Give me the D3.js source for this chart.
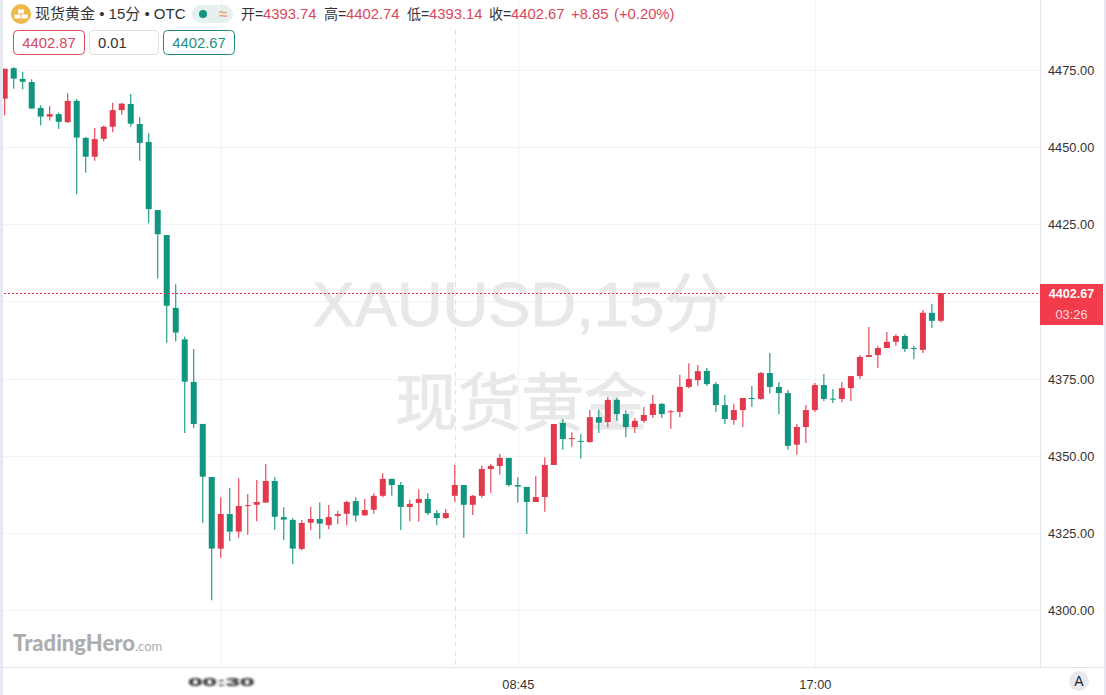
<!DOCTYPE html>
<html>
<head>
<meta charset="utf-8">
<script src="https://cdn.jsdelivr.net/npm/d3@7"></script>
<style>
  html, body { margin: 0; padding: 0; background: #fff; overflow: hidden; }
  svg { display: block; }
  text { font-family: "Liberation Sans", "Noto Sans CJK SC", sans-serif; }
</style>
</head>
<body>
<div id="chart"></div>
<script>
// Candle values, 15 minute bars
const opens = [
  4465.7, 4475.6, 4472.1, 4471.1, 4462.7, 4459.9, 4460.7, 4458.1, 4465.0, 4453.0,
  4446.9, 4452.7, 4456.6, 4462.0, 4464.0, 4457.5, 4451.7, 4429.6, 4421.5, 4397.9,
  4387.7, 4373.9, 4360.3, 4343.1, 4319.9, 4331.1, 4325.4, 4333.7, 4334.1, 4334.8,
  4341.8, 4330.1, 4329.2, 4319.8, 4328.3, 4329.5, 4327.5, 4330.5, 4331.2, 4335.3,
  4330.7, 4332.5, 4337.0, 4342.5, 4340.5, 4333.4, 4334.7, 4336.0, 4331.4, 4329.8,
  4337.0, 4340.5, 4334.1, 4337.0, 4345.7, 4346.7, 4349.3, 4340.5, 4339.9, 4335.0,
  4336.6, 4347.0, 4360.6, 4355.4, 4354.8, 4354.4, 4362.5, 4360.9, 4368.1, 4363.5,
  4359.3, 4361.3, 4363.2, 4366.8, 4364.2, 4364.2, 4372.3, 4374.5, 4377.5, 4373.2,
  4366.4, 4361.6, 4364.8, 4368.7, 4368.4, 4376.8, 4372.3, 4370.3, 4353.6, 4359.3,
  4364.8, 4372.9, 4368.5, 4368.4, 4371.9, 4375.8, 4382.0, 4382.6, 4384.9, 4386.9,
  4388.8, 4384.9, 4384.3, 4396.3, 4393.74
];
const highs = [
  4475.4, 4475.9, 4474.4, 4472.0, 4463.6, 4463.3, 4461.2, 4467.5, 4465.6, 4453.3,
  4456.2, 4457.0, 4464.4, 4464.4, 4467.2, 4459.7, 4454.5, 4429.6, 4421.5, 4405.6,
  4388.6, 4384.6, 4360.3, 4343.1, 4336.5, 4339.5, 4342.7, 4337.6, 4342.1, 4347.3,
  4343.0, 4333.3, 4329.7, 4329.2, 4333.5, 4334.8, 4334.0, 4332.2, 4335.4, 4336.5,
  4336.0, 4337.8, 4344.3, 4342.5, 4341.5, 4335.7, 4339.1, 4337.8, 4332.4, 4332.7,
  4347.0, 4340.5, 4337.3, 4346.8, 4347.3, 4350.6, 4349.3, 4343.0, 4339.9, 4343.4,
  4349.5, 4360.3, 4361.9, 4357.6, 4357.0, 4364.8, 4365.0, 4369.0, 4368.7, 4364.7,
  4362.2, 4365.8, 4369.7, 4367.1, 4364.8, 4376.2, 4380.0, 4379.4, 4378.4, 4373.9,
  4369.7, 4366.8, 4368.7, 4372.6, 4377.1, 4383.3, 4373.9, 4371.3, 4360.3, 4366.4,
  4373.6, 4376.5, 4371.6, 4373.9, 4375.8, 4382.6, 4391.7, 4385.6, 4390.1, 4389.4,
  4389.4, 4385.6, 4397.2, 4399.2, 4402.74
];
const lows = [
  4460.3, 4468.9, 4468.8, 4462.5, 4457.0, 4458.6, 4455.9, 4457.9, 4434.7, 4441.7,
  4445.6, 4451.8, 4454.8, 4460.5, 4456.6, 4445.6, 4425.3, 4407.4, 4386.6, 4387.0,
  4357.4, 4359.0, 4328.3, 4303.2, 4316.9, 4322.4, 4323.4, 4324.4, 4328.8, 4334.8,
  4326.0, 4322.7, 4314.9, 4319.4, 4325.9, 4323.1, 4326.2, 4327.9, 4327.4, 4328.6,
  4330.5, 4331.2, 4336.5, 4337.0, 4325.9, 4328.8, 4328.6, 4330.8, 4327.5, 4329.6,
  4335.1, 4323.4, 4330.8, 4336.4, 4337.8, 4343.8, 4340.0, 4334.8, 4324.6, 4335.0,
  4331.8, 4347.0, 4351.9, 4352.9, 4349.0, 4354.4, 4357.4, 4359.2, 4361.3, 4356.0,
  4357.4, 4360.7, 4362.2, 4362.2, 4358.7, 4362.5, 4371.9, 4372.7, 4372.6, 4364.2,
  4360.3, 4360.0, 4359.3, 4365.8, 4368.1, 4370.2, 4363.4, 4351.9, 4350.3, 4354.1,
  4364.2, 4367.7, 4367.1, 4367.4, 4367.7, 4374.9, 4382.0, 4378.4, 4384.9, 4385.6,
  4383.6, 4381.3, 4383.3, 4391.4, 4393.14
];
const closes = [
  4475.4, 4472.2, 4471.2, 4462.5, 4459.9, 4460.7, 4458.2, 4465.0, 4453.1, 4446.9,
  4452.6, 4456.6, 4462.0, 4464.1, 4457.6, 4451.4, 4429.9, 4421.8, 4398.6, 4389.9,
  4374.0, 4360.3, 4343.2, 4319.9, 4331.1, 4325.4, 4333.7, 4334.0, 4335.0, 4341.8,
  4330.2, 4329.3, 4319.9, 4328.2, 4329.5, 4328.0, 4330.1, 4331.1, 4335.0, 4330.6,
  4332.4, 4337.0, 4342.5, 4340.5, 4333.4, 4334.4, 4336.0, 4331.4, 4329.8, 4331.4,
  4340.5, 4334.1, 4337.0, 4345.7, 4346.7, 4349.3, 4340.5, 4340.0, 4335.0, 4336.6,
  4347.0, 4360.3, 4355.4, 4355.7, 4354.5, 4362.5, 4360.7, 4368.1, 4363.5, 4359.3,
  4361.3, 4363.2, 4366.8, 4363.5, 4364.4, 4372.3, 4374.9, 4377.4, 4373.2, 4366.4,
  4361.9, 4364.8, 4368.7, 4368.5, 4376.8, 4372.3, 4370.3, 4353.2, 4359.3, 4364.8,
  4372.9, 4368.4, 4368.3, 4371.9, 4375.8, 4382.0, 4382.6, 4384.9, 4386.9, 4388.8,
  4384.6, 4384.7, 4396.3, 4393.7, 4402.67
];

const priceTicks = [4475, 4450, 4425, 4375, 4350, 4325, 4300];
const timeTickBars = [24, 57, 90];
const timeTickLabels = ["00:30", "08:45", "17:00"];
const crosshairBar = 50;

const lastPrice = 4402.67;
const lastPriceLabel = "4402.67";
const countdownLabel = "03:26";
const chartTitle = "现货黄金 • 15分 • OTC";
const watermarkLines = ["XAUUSD,15分", "现货黄金"];

// Legend row: label then value, x
const legendLabels = [["开=", 241], ["高=", 324], ["低=", 407], ["收=", 489]];
const legendValues = [
  ["4393.74", 263], ["4402.74", 346], ["4393.14", 429], ["4402.67", 511],
  ["+8.85", 571], ["(+0.20%)", 614]
];
const orderBoxes = [
  { text: "4402.87", x: 13.5, w: 71, color: "#d9475c", stroke: "#d9475c", anchor: "middle" },
  { text: "0.01", x: 89.5, w: 69, color: "#333", stroke: "#e0e0e0", anchor: "start" },
  { text: "4402.67", x: 163.5, w: 71, color: "#1f8f7c", stroke: "#1f8f7c", anchor: "middle" }
];

const width = 1106;
const height = 695;
const axisX = 1040;
const axisY = 667;
const upColor = "#e23a4c";
const downColor = "#12957f";
const gridColor = "#f1f3f8";

const svg = d3.select("#chart")
  .append("svg")
  .attr("width", width)
  .attr("height", height);

const defs = svg.append("defs");
defs.append("filter")
  .attr("id", "smear")
  .attr("x", "-20%")
  .attr("y", "-50%")
  .attr("width", "140%")
  .attr("height", "200%")
  .append("feGaussianBlur")
  .attr("stdDeviation", "1.6 0.9");

// Scales
const xScale = d3.scaleLinear().domain([0, 104]).range([4.7, 940.9]);
const yScale = d3.scaleLinear().domain([4475, 4300]).range([70, 610]);

// Grid
svg.append("g")
  .selectAll("line")
  .data(priceTicks.concat([4400]))
  .enter()
  .append("line")
  .attr("x1", 0)
  .attr("x2", axisX)
  .attr("y1", (d) => Math.round(yScale(d)) + 0.5)
  .attr("y2", (d) => Math.round(yScale(d)) + 0.5)
  .attr("stroke", gridColor);

svg.append("g")
  .selectAll("line")
  .data(timeTickBars)
  .enter()
  .append("line")
  .attr("x1", (d) => Math.round(xScale(d)) + 0.5)
  .attr("x2", (d) => Math.round(xScale(d)) + 0.5)
  .attr("y1", 0)
  .attr("y2", axisY)
  .attr("stroke", gridColor);

// Dashed crosshair
svg.append("line")
  .attr("x1", Math.round(xScale(crosshairBar)) + 0.5)
  .attr("x2", Math.round(xScale(crosshairBar)) + 0.5)
  .attr("y1", 30)
  .attr("y2", axisY)
  .attr("stroke", "#e2e2e2")
  .attr("stroke-dasharray", "5 4");

// Watermark
svg.append("text")
  .attr("x", 520)
  .attr("y", 326)
  .attr("text-anchor", "middle")
  .attr("font-size", 63.3)
  .attr("fill", "#e8e8e8")
  .attr("stroke", "#e8e8e8")
  .attr("stroke-width", 0.9)
  .text(watermarkLines[0]);

svg.append("text")
  .attr("x", 521)
  .attr("y", 425)
  .attr("text-anchor", "middle")
  .attr("font-size", 63)
  .attr("fill", "#e8e8e8")
  .attr("stroke", "#e8e8e8")
  .attr("stroke-width", 0.9)
  .text(watermarkLines[1]);

// Candles
const candles = svg.append("g")
  .selectAll(".candle")
  .data(opens.map((o, i) => ({ i, o, h: highs[i], l: lows[i], c: closes[i] })))
  .enter()
  .append("g")
  .attr("class", "candle")
  .attr("fill", (d) => (d.c >= d.o ? upColor : downColor))
  .attr("stroke", (d) => (d.c >= d.o ? upColor : downColor));

candles.append("line")
  .attr("x1", (d) => xScale(d.i))
  .attr("x2", (d) => xScale(d.i))
  .attr("y1", (d) => yScale(d.h))
  .attr("y2", (d) => yScale(d.l))
  .attr("stroke-width", 1.1);

candles.append("rect")
  .attr("x", (d) => xScale(d.i) - 3)
  .attr("width", 6)
  .attr("y", (d) => yScale(Math.max(d.o, d.c)))
  .attr("height", (d) => Math.max(1, Math.abs(yScale(d.o) - yScale(d.c))))
  .attr("stroke", "none");

// Last price line
svg.append("line")
  .attr("x1", 0)
  .attr("x2", axisX)
  .attr("y1", Math.round(yScale(lastPrice)) + 0.5)
  .attr("y2", Math.round(yScale(lastPrice)) + 0.5)
  .attr("stroke", "#e8304a")
  .attr("stroke-dasharray", "2 2")
  .attr("shape-rendering", "crispEdges");

// Pale strips at the picture edges
svg.append("rect").attr("x", 0).attr("y", 0).attr("width", 3).attr("height", height).attr("fill", "#e8e8f3");
svg.append("rect").attr("x", 1104).attr("y", 0).attr("width", 2).attr("height", height).attr("fill", "#e8e8f3");

// Axis borders
svg.append("line")
  .attr("x1", axisX + 0.5).attr("x2", axisX + 0.5)
  .attr("y1", 0).attr("y2", axisY)
  .attr("stroke", "#e3e4ea");
svg.append("line")
  .attr("x1", 0).attr("x2", 1104)
  .attr("y1", axisY + 0.5).attr("y2", axisY + 0.5)
  .attr("stroke", "#e3e4ea");

// Axes
const yAxis = d3.axisRight(yScale)
  .tickValues(priceTicks)
  .tickSize(0)
  .tickPadding(8)
  .tickFormat(d3.format(".2f"));

svg.append("g")
  .attr("id", "y-axis")
  .attr("transform", `translate(${axisX}, 0.5)`)
  .call(yAxis)
  .call((g) => g.select(".domain").remove())
  .call((g) => g.selectAll("text")
    .attr("font-family", "Liberation Sans")
    .attr("font-size", 12.8)
    .attr("fill", "#333"));

const xAxis = d3.axisBottom(xScale)
  .tickValues(timeTickBars)
  .tickSize(0)
  .tickPadding(13)
  .tickFormat((d, i) => timeTickLabels[i]);

svg.append("g")
  .attr("id", "x-axis")
  .attr("transform", `translate(0, ${axisY})`)
  .call(xAxis)
  .call((g) => g.select(".domain").remove())
  .call((g) => g.selectAll("text")
    .attr("font-family", "Liberation Sans")
    .attr("font-size", 12.8)
    .attr("fill", "#333"));

// First time label is smeared out in the picture
svg.select("#x-axis").select(".tick text")
  .attr("textLength", 66)
  .attr("lengthAdjust", "spacingAndGlyphs")
  .attr("font-size", 10)
  .attr("font-weight", "bold")
  .attr("y", 12)
  .attr("fill", "#111")
  .attr("filter", "url(#smear)");

// Last price tag
svg.append("rect")
  .attr("x", axisX)
  .attr("y", 284)
  .attr("width", 63)
  .attr("height", 41)
  .attr("fill", "#f23c4c");

svg.append("text")
  .attr("x", axisX + 31.5)
  .attr("y", 298)
  .attr("text-anchor", "middle")
  .attr("font-size", 12.6)
  .attr("font-weight", "bold")
  .attr("fill", "#fff")
  .text(lastPriceLabel);

svg.append("text")
  .attr("x", axisX + 31.5)
  .attr("y", 319)
  .attr("text-anchor", "middle")
  .attr("font-size", 12.8)
  .attr("fill", "#ffd9dc")
  .text(countdownLabel);

// Header
svg.append("circle").attr("cx", 21).attr("cy", 14).attr("r", 10).attr("fill", "#eeb94a");
svg.append("g")
  .attr("fill", "#fff")
  .selectAll("rect")
  .data([[18, 9.5], [14.5, 14.5], [21.5, 14.5]])
  .enter()
  .append("rect")
  .attr("x", (d) => d[0])
  .attr("y", (d) => d[1])
  .attr("width", 6)
  .attr("height", 4);

svg.append("text")
  .attr("x", 35)
  .attr("y", 19)
  .attr("font-size", 15)
  .attr("fill", "#333")
  .text(chartTitle);

svg.append("rect")
  .attr("x", 192).attr("y", 5)
  .attr("width", 41).attr("height", 18)
  .attr("rx", 9)
  .attr("fill", "#e6f1ef");
svg.append("circle").attr("cx", 203).attr("cy", 14).attr("r", 4).attr("fill", "#12957f");
svg.append("text")
  .attr("x", 223).attr("y", 19)
  .attr("text-anchor", "middle")
  .attr("font-size", 15)
  .attr("font-weight", "bold")
  .attr("fill", "#eda07a")
  .text("≈");

svg.append("g")
  .selectAll("text")
  .data(legendLabels)
  .enter()
  .append("text")
  .attr("x", (d) => d[1])
  .attr("y", 19)
  .attr("font-size", 14)
  .attr("fill", "#333")
  .text((d) => d[0]);

svg.append("g")
  .selectAll("text")
  .data(legendValues)
  .enter()
  .append("text")
  .attr("x", (d) => d[1])
  .attr("y", 19)
  .attr("font-size", 14.8)
  .attr("fill", "#d9475c")
  .text((d) => d[0]);

// Order boxes
const boxes = svg.append("g")
  .selectAll("g")
  .data(orderBoxes)
  .enter()
  .append("g");

boxes.append("rect")
  .attr("x", (d) => d.x)
  .attr("y", 30.5)
  .attr("width", (d) => d.w)
  .attr("height", 24)
  .attr("rx", 4)
  .attr("fill", "#fff")
  .attr("stroke", (d) => d.stroke);

boxes.append("text")
  .attr("x", (d) => (d.anchor === "middle" ? d.x + d.w / 2 : d.x + 8.5))
  .attr("y", 48)
  .attr("text-anchor", (d) => d.anchor)
  .attr("font-size", 14.8)
  .attr("fill", (d) => d.color)
  .text((d) => d.text);

// Logo
const logo = svg.append("text")
  .attr("x", 13)
  .attr("y", 651)
  .attr("fill", "#adadad");
logo.append("tspan")
  .attr("font-family", "Lato")
  .attr("font-weight", 900)
  .attr("font-size", 22)
  .text("TradingHero");
logo.append("tspan")
  .attr("font-family", "Lato")
  .attr("font-size", 13)
  .text(".com");

// Auto scale button
svg.append("circle").attr("cx", 1079).attr("cy", 681).attr("r", 10).attr("fill", "#e9e9f0");
svg.append("text")
  .attr("x", 1079)
  .attr("y", 686)
  .attr("text-anchor", "middle")
  .attr("font-size", 14)
  .attr("fill", "#222")
  .text("A");
</script>
</body>
</html>
